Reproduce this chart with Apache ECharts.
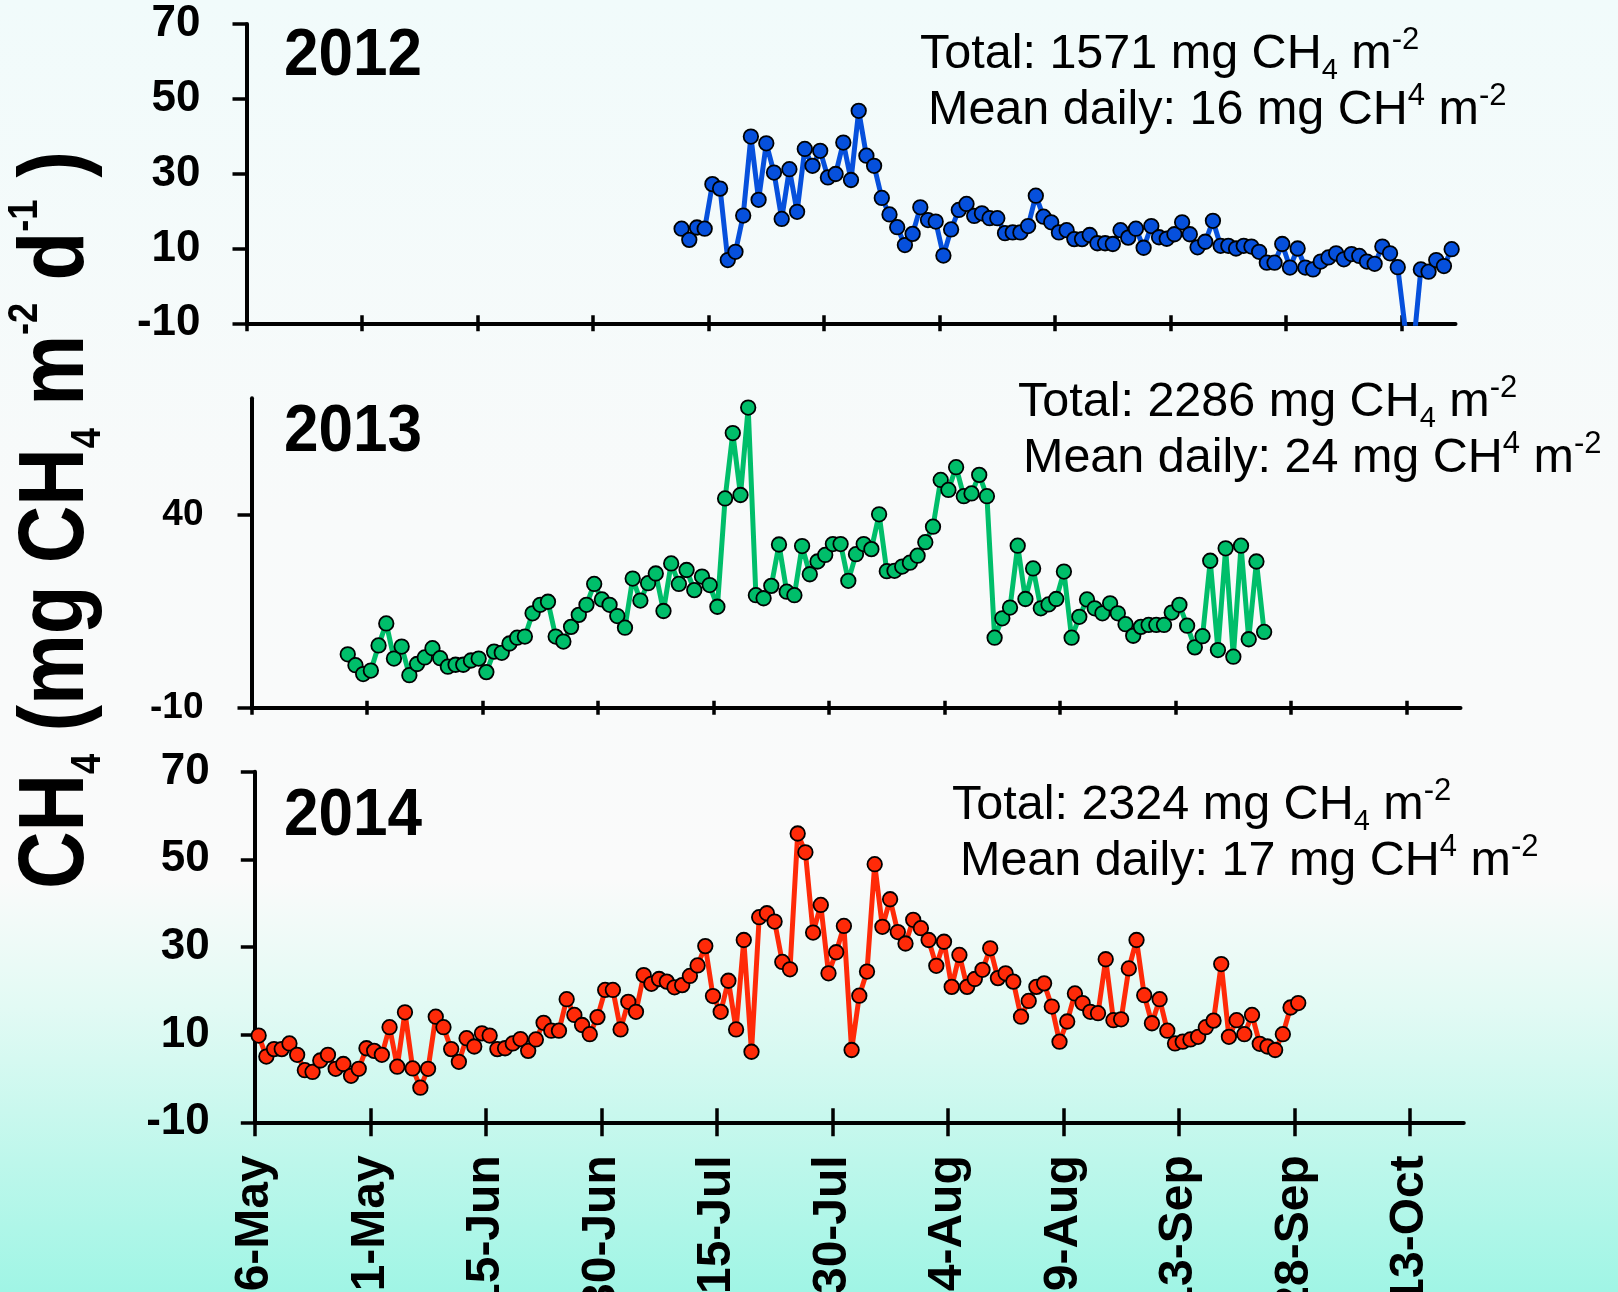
<!DOCTYPE html>
<html>
<head>
<meta charset="utf-8">
<script src="https://cdn.jsdelivr.net/npm/echarts@6/dist/echarts.min.js"></script>
<style>
  html, body { margin: 0; padding: 0; }
  #chart { width: 1618px; height: 1292px; }
</style>
</head>
<body>
<div id="chart"></div>
<script>
// Daily CH4 flux, mg CH4 m-2 d-1. Days are counted from 16 May; one value per day.
const firstDay2012 = 56; // 11 Jul
const flux2012 = [
  15.3, 12.3, 15.6, 15.3, 27.2, 26.0, 6.9, 9.1, 18.8, 39.9,
  23.0, 38.1, 30.3, 17.9, 31.2, 19.8, 36.6, 32.1, 36.1, 29.0,
  29.9, 38.3, 28.3, 46.8, 34.8, 32.1, 23.5, 19.1, 15.7, 10.9,
  13.9, 21.0, 17.6, 17.2, 8.1, 15.1, 20.3, 21.9, 18.7, 19.4,
  18.1, 18.1, 14.1, 14.3, 14.3, 16.0, 24.1, 18.5, 17.0, 14.3,
  14.9, 12.5, 12.5, 13.6, 11.4, 11.4, 11.2, 14.9, 12.9, 15.3,
  10.2, 16.0, 13.0, 12.6, 13.8, 17.0, 13.8, 10.3, 11.8, 17.4,
  10.7, 10.7, 10.0, 10.7, 10.5, 9.1, 6.2, 6.2, 11.2, 4.9,
  10.0, 4.9, 4.4, 6.5, 7.6, 8.7, 7.1, 8.5, 8.0, 6.5,
  5.9, 10.5, 8.7, 5.0, -12.0, -17.0, 4.4, 3.8, 6.9, 5.3,
  9.8
];

const firstDay2013 = 12; // 28 May
const flux2013 = [
  3.8, 1.0, -1.3, -0.4, 6.1, 11.8, 2.7, 5.8, -1.6, 1.3,
  3.0, 5.4, 2.8, 0.6, 1.1, 1.1, 2.2, 2.7, -0.8, 4.5,
  4.2, 6.6, 8.1, 8.4, 14.4, 16.6, 17.4, 8.4, 7.1, 10.9,
  14.0, 16.6, 22.0, 18.0, 16.6, 13.7, 10.7, 23.4, 17.7, 22.2,
  24.7, 15.0, 27.3, 22.0, 25.6, 20.4, 23.9, 21.7, 16.1, 44.1,
  61.0, 45.0, 67.6, 19.1, 18.3, 21.5, 32.2, 20.0, 19.1, 31.8,
  24.5, 27.8, 29.5, 32.3, 32.3, 22.8, 29.7, 32.3, 31.0, 40.0,
  25.3, 25.4, 26.5, 27.5, 29.3, 32.8, 36.8, 48.9, 46.3, 52.2,
  44.7, 45.4, 50.2, 44.7, 8.1, 13.1, 15.9, 31.9, 18.1, 26.0,
  15.7, 16.7, 18.1, 25.2, 8.1, 13.5, 18.0, 15.7, 14.4, 17.0,
  14.4, 11.6, 8.6, 10.9, 11.4, 11.4, 11.4, 14.6, 16.6, 11.2,
  5.6, 8.5, 28.0, 4.9, 31.2, 3.2, 31.9, 7.7, 27.8, 9.6
];

const firstDay2014 = 0; // 16 May
const flux2014 = [
  9.8, 5.0, 6.7, 6.7, 8.0, 5.4, 1.9, 1.5, 4.1, 5.4,
  2.2, 3.3, 0.6, 2.2, 6.9, 6.3, 5.4, 11.7, 2.7, 15.1,
  2.3, -2.1, 2.2, 14.1, 11.7, 6.7, 3.8, 9.2, 7.3, 10.3,
  9.8, 6.7, 6.9, 8.0, 9.0, 6.3, 8.9, 12.7, 10.9, 10.9,
  18.1, 14.5, 12.2, 10.1, 14.0, 20.2, 20.2, 11.2, 17.5, 15.2,
  23.6, 21.6, 22.7, 22.1, 20.8, 21.3, 23.4, 25.8, 30.2, 18.8,
  15.2, 22.3, 11.2, 31.6, 6.1, 36.8, 37.7, 35.8, 26.6, 24.9,
  55.9, 51.6, 33.3, 39.6, 24.0, 28.8, 34.8, 6.5, 18.9, 24.4,
  48.9, 34.6, 40.9, 33.4, 30.8, 36.2, 34.3, 31.6, 25.7, 31.2,
  20.9, 28.2, 20.9, 22.7, 24.8, 29.7, 22.9, 24.0, 22.1, 14.1,
  17.7, 20.9, 21.7, 16.4, 8.4, 13.0, 19.4, 17.2, 15.2, 14.9,
  27.2, 13.3, 13.5, 25.1, 31.6, 19.0, 12.6, 18.1, 10.9, 8.0,
  8.4, 8.9, 9.5, 11.7, 13.2, 26.1, 9.5, 13.3, 10.1, 14.5,
  7.9, 7.3, 6.5, 10.1, 16.2, 17.2
];

const years = ['2012', '2013', '2014'];
const seasonTotals = [1571, 2286, 2324];   // mg CH4 m-2
const meanDaily = [16, 24, 17];            // mg CH4 m-2
const lineColors = ['#0650dc', '#00be6a', '#ff2a08'];

// Date ticks every 15 days from 16 May
const dateTicks = [0, 15, 30, 45, 60, 75, 90, 105, 120, 135, 150];
const dateLabels = ['16-May', '31-May', '15-Jun', '30-Jun', '15-Jul', '30-Jul',
                    '14-Aug', '29-Aug', '13-Sep', '28-Sep', '13-Oct'];
const yTicksFull = [-10, 10, 30, 50, 70];
const yTicksSparse = [-10, 40];

const FONT = 'Liberation Sans, Arial, Helvetica, sans-serif';

// Points sit in the middle of their day, as on a date axis.
function toPoints(firstDay, values) {
  return values.map((v, i) => [firstDay + i + 0.5, v]);
}

const panels = [
  { first: firstDay2012, values: flux2012, left: 246.5, top: 24, height: 299.3,
    yTicks: yTicksFull, tickFont: 44, labelMargin: 46, xTickLen: 8 },
  { first: firstDay2013, values: flux2013, left: 251.5, top: 398.3, height: 309.4,
    yTicks: yTicksSparse, tickFont: 37, labelMargin: 48, xTickLen: 7 },
  { first: firstDay2014, values: flux2014, left: 254.8, top: 771.7, height: 350.6,
    yTicks: yTicksFull, tickFont: 44, labelMargin: 45, xTickLen: 14 }
];
const plotWidth = 1209;

const grids = [], xAxes = [], yAxes = [], series = [];
panels.forEach((p, i) => {
  grids.push({
    left: p.left, top: p.top, width: plotWidth, height: p.height,
    containLabel: false, outerBoundsMode: 'none', show: false
  });
  const isBottom = i === panels.length - 1;
  // Main x axis: line, outward ticks and (bottom panel) date labels
  xAxes.push({
    type: 'value', gridIndex: i, min: 0, max: 157, position: 'bottom',
    axisLine: { show: true, onZero: false, lineStyle: { color: '#000', width: 4 } },
    axisTick: { show: true, customValues: dateTicks, length: p.xTickLen, inside: false,
                lineStyle: { color: '#000', width: 3.5 } },
    axisLabel: isBottom ? {
      show: true, customValues: dateTicks, rotate: 90, margin: 33,
      fontSize: 48, fontWeight: 'bold', color: '#000', fontFamily: FONT,
      padding: [16, 0, 0, 0],
      formatter: v => { const k = dateTicks.indexOf(v); return k >= 0 ? dateLabels[k] : ''; }
    } : { show: false },
    splitLine: { show: false }
  });
  // Companion axis carrying the inward half of the crossing ticks
  xAxes.push({
    type: 'value', gridIndex: i, min: 0, max: 157, position: 'bottom',
    axisLine: { show: false, onZero: false },
    axisTick: { show: true, customValues: dateTicks, length: p.xTickLen, inside: true,
                lineStyle: { color: '#000', width: 3.5 } },
    axisLabel: { show: false },
    splitLine: { show: false }
  });
  yAxes.push({
    type: 'value', gridIndex: i, min: -10, max: 70,
    axisLine: { show: true, onZero: false, lineStyle: { color: '#000', width: 4 } },
    axisTick: { show: true, customValues: p.yTicks, length: 14, inside: false,
                lineStyle: { color: '#000', width: 3.5 } },
    axisLabel: { show: true, customValues: p.yTicks, margin: p.labelMargin,
                 fontSize: p.tickFont, fontWeight: 'bold', color: '#000', fontFamily: FONT },
    splitLine: { show: false }
  });
  series.push({
    type: 'line', name: years[i], xAxisIndex: i * 2, yAxisIndex: i,
    data: toPoints(p.first, p.values),
    symbol: 'circle', symbolSize: 14.5, showSymbol: true, showAllSymbol: true,
    lineStyle: { color: lineColors[i], width: 5 },
    itemStyle: { color: lineColors[i], borderColor: '#000', borderWidth: 1.8 },
    emphasis: { disabled: true }, animation: false, clip: true, z: 3
  });
});

// Rich-text styles for sub/superscripts
function annotRich() {
  return {
    n:   { fontSize: 48.5, fontFamily: FONT, color: '#000', lineHeight: 60, verticalAlign: 'middle' },
    sup: { fontSize: 31, fontFamily: FONT, color: '#000', lineHeight: 36, verticalAlign: 'top' },
    sub: { fontSize: 29, fontFamily: FONT, color: '#000', lineHeight: 24, verticalAlign: 'bottom' }
  };
}
const annotPos = [
  { x1: 920, y1: 55, x2: 928, y2: 111 },
  { x1: 1018, y1: 403, x2: 1023, y2: 459 },
  { x1: 952, y1: 806, x2: 960, y2: 862 }
];
const yearPos = [ { x: 284, y: 57 }, { x: 284, y: 433 }, { x: 284, y: 817 } ];

const graphics = [];
panels.forEach((p, i) => {
  graphics.push({
    type: 'text', x: yearPos[i].x, y: yearPos[i].y, scaleX: 0.94,
    style: { text: years[i], fontSize: 66, fontWeight: 'bold', fontFamily: FONT,
             fill: '#000', align: 'left', verticalAlign: 'middle' }
  });
  graphics.push({
    type: 'text', x: annotPos[i].x1, y: annotPos[i].y1,
    style: { text: '{n|Total: ' + seasonTotals[i] + ' mg CH}{sub|4}{n| m}{sup|-2}',
             rich: annotRich(), align: 'left', verticalAlign: 'middle', fill: '#000' }
  });
  graphics.push({
    type: 'text', x: annotPos[i].x2, y: annotPos[i].y2,
    style: { text: '{n|Mean daily: ' + meanDaily[i] + ' mg CH}{sup|4}{n| m}{sup|-2}',
             rich: annotRich(), align: 'left', verticalAlign: 'middle', fill: '#000' }
  });
});

// Shared y-axis title, reading upward
graphics.push({
  type: 'text', x: 57, y: 520, rotation: Math.PI / 2, scaleX: 0.906, scaleY: 1.06,
  style: {
    text: '{b|CH}{sub|4}{b| (mg CH}{sub|4}{b| m}{sup|-2}{b| d}{sup|-1}{b| )}',
    align: 'center', verticalAlign: 'middle', fill: '#000',
    rich: {
      b:   { fontSize: 88, fontWeight: 'bold', fontFamily: FONT, color: '#000', lineHeight: 100, verticalAlign: 'middle' },
      sup: { fontSize: 40, fontWeight: 'bold', fontFamily: FONT, color: '#000', lineHeight: 52, verticalAlign: 'top' },
      sub: { fontSize: 40, fontWeight: 'bold', fontFamily: FONT, color: '#000', lineHeight: 60, verticalAlign: 'bottom' }
    }
  }
});

const chart = echarts.init(document.getElementById('chart'), null, { renderer: 'canvas' });
chart.setOption({
  animation: false,
  backgroundColor: {
    type: 'linear', x: 0, y: 0, x2: 0, y2: 1,
    colorStops: [
      { offset: 0, color: '#f1fbfb' },
      { offset: 0.4, color: '#f8fafa' },
      { offset: 0.68, color: '#fafafa' },
      { offset: 0.78, color: '#e2faf4' },
      { offset: 0.9, color: '#bdf7eb' },
      { offset: 1, color: '#a0f5e5' }
    ]
  },
  textStyle: { fontFamily: FONT },
  grid: grids,
  xAxis: xAxes,
  yAxis: yAxes,
  series: series,
  graphic: { elements: graphics }
});
</script>
</body>
</html>
